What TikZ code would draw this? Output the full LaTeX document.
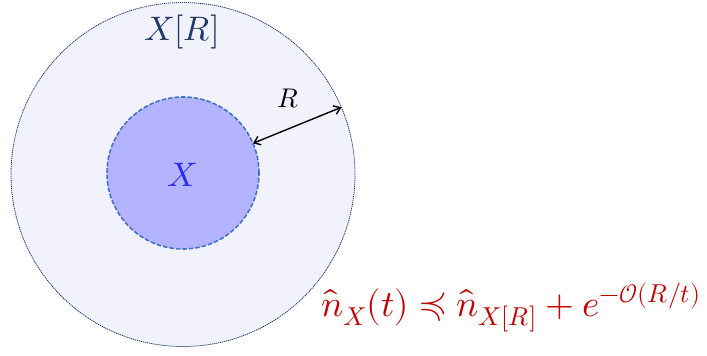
\documentclass[tikz,border=0pt]{standalone}
\usepackage{amsmath}
\usepackage{unicode-math}
\setmathfont{Latin Modern Math}
\usetikzlibrary{arrows.meta}

\definecolor{outerfill}{RGB}{242,242,253}
\definecolor{outerline}{RGB}{32,56,100}
\definecolor{innerfill}{RGB}{179,179,255}
\definecolor{innerline}{RGB}{68,114,196}
\definecolor{setblue}{RGB}{40,40,255}
\definecolor{boundred}{RGB}{192,0,0}

\begin{document}
\begin{tikzpicture}[x=1pt, y=-1pt]
  \tikzset{
    region/.style={circle, inner sep=0pt, outer sep=0pt},
    radius_arrow/.style={{Straight Barb[length=6pt,width=9pt]}-{Straight Barb[length=6pt,width=9pt]}, line width=1.4pt}
  }
  \useasboundingbox (0,0) rectangle (707,356);

  % neighbourhood X[R]
  \node[region, minimum size=344pt, fill=outerfill, draw=outerline,
    line width=0.8pt, dash pattern=on 1.2pt off 0.8pt] (outer) at (183,174.5) {};

  % set X
  \node[region, minimum size=152pt, fill=innerfill, draw=innerline,
    line width=1.6pt, dash pattern=on 4.5pt off 2pt] (inner) at (183,173) {};

  % labels
  \node[anchor=base, text=outerline, font=\fontsize{34}{40}\selectfont] (outer_label) at (182,40) {$X[R]$};
  \node[anchor=base, text=setblue, font=\fontsize{34}{40}\selectfont] (inner_label) at (182,186) {$X$};

  % radius
  \draw[radius_arrow] (inner.23.5) -- (outer.23.5);
  \node[anchor=base, font=\fontsize{27}{32}\selectfont] (radius_label) at (288,107) {$R$};

  % bound
  \node[anchor=base west, inner sep=0pt, text=boundred, font=\fontsize{37}{43}\selectfont] (bound)
    at (321,316) {$\hat{n}_X(t) \preccurlyeq \hat{n}_{X[R]} + e^{-\mathcal{O}(R/t)}$};
\end{tikzpicture}
\end{document}
